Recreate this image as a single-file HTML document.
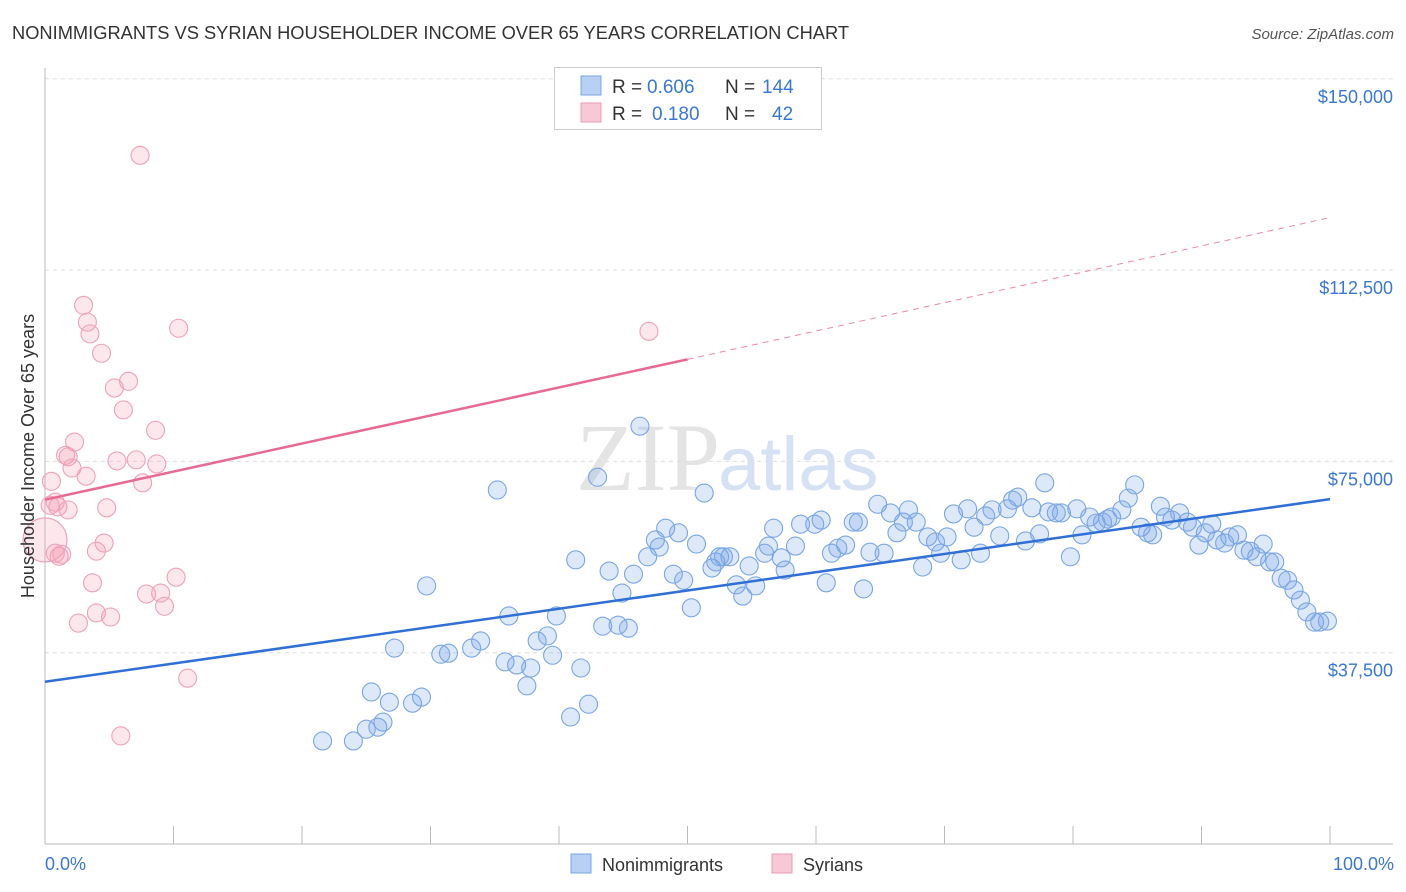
<!DOCTYPE html>
<html><head><meta charset="utf-8">
<style>
body{margin:0;background:#fff;font-family:"Liberation Sans",sans-serif;}
svg{display:block}
</style></head>
<body>
<svg id="chart" width="1406" height="892">
<text x="12" y="39" font-size="18.3" fill="#333">NONIMMIGRANTS VS SYRIAN HOUSEHOLDER INCOME OVER 65 YEARS CORRELATION CHART</text>
<text x="1394" y="39" font-size="15" fill="#555" font-style="italic" text-anchor="end">Source: ZipAtlas.com</text>
<text x="720" y="490" font-size="96" fill="#e4e4e4" font-family="Liberation Serif,serif" text-anchor="end">ZIP</text>
<text x="718" y="490" font-size="76" fill="#d6e2f3" text-anchor="start">atlas</text>
<g id="grid"></g>
<g id="axes"></g>
<g id="pts"></g>
<g id="lines"></g>
<text transform="translate(34,456) rotate(-90)" font-size="18" fill="#333" text-anchor="middle">Householder Income Over 65 years</text>
<text x="45" y="870" font-size="18" fill="#3a78d4">0.0%</text>
<text x="1394" y="870" font-size="18" fill="#3a78d4" text-anchor="end">100.0%</text>
<g>
<rect x="554.5" y="67.5" width="267" height="62" fill="#fff" stroke="#ccc"/>
<rect x="581" y="76" width="20" height="19" fill="#b7d0f3" stroke="#7aa6e4"/>
<rect x="581" y="103" width="20" height="19" fill="#f7c9d7" stroke="#eb9ab3"/>
<text x="612" y="93" font-size="19" fill="#333">R =</text>
<text x="647" y="93" font-size="19" fill="#3a78d4">0.606</text>
<text x="725" y="93" font-size="19" fill="#333">N =</text>
<text x="762" y="93" font-size="19" fill="#3a78d4">144</text>
<text x="612" y="120" font-size="19" fill="#333">R =</text>
<text x="652" y="120" font-size="19" fill="#3a78d4">0.180</text>
<text x="725" y="120" font-size="19" fill="#333">N =</text>
<text x="772" y="120" font-size="19" fill="#3a78d4">42</text>
</g>
<g>
<rect x="571" y="854" width="20" height="19" fill="#b7d0f3" stroke="#7aa6e4"/>
<text x="602" y="871" font-size="18" fill="#333">Nonimmigrants</text>
<rect x="772" y="854" width="20" height="19" fill="#f7c9d7" stroke="#eb9ab3"/>
<text x="803" y="871" font-size="18" fill="#333">Syrians</text>
</g>
</svg>
<script>
const yTicks=[37500,75000,112500,150000];
const yTickLabels=["$37,500","$75,000","$112,500","$150,000"];
const xTickPcts=[0,10,20,30,40,50,60,70,80,90,100];
const blueX=[21.6,24.0,25.0,25.9,26.3,25.4,26.8,28.6,29.3,27.2,29.7,30.8,31.4,33.2,33.9,35.2,35.8,36.1,36.7,37.5,37.8,38.3,39.1,39.8,39.5,40.9,41.7,42.3,41.3,43.4,43.9,44.6,44.9,45.4,45.8,46.3,43.0,46.9,47.5,47.8,48.3,49.3,48.9,49.7,50.3,50.7,51.3,51.9,52.2,52.5,52.8,53.3,53.8,54.3,54.8,55.3,56.0,56.3,56.7,57.3,57.6,58.4,58.8,59.9,60.4,60.8,61.2,61.7,62.3,62.9,63.3,63.7,64.2,64.8,65.3,65.8,66.3,66.8,67.2,67.8,68.3,68.7,69.3,69.7,70.2,70.7,71.3,71.8,72.3,72.8,73.2,73.7,74.3,74.9,75.3,75.7,76.3,76.8,77.4,77.8,78.1,78.7,79.1,79.8,80.3,80.7,81.3,81.8,82.3,82.7,83.0,83.8,84.3,84.8,85.3,85.8,86.2,86.8,87.2,87.7,88.3,88.9,89.3,89.8,90.3,90.8,91.2,91.8,92.2,92.8,93.3,93.8,94.3,94.8,95.3,95.7,96.2,96.7,97.2,97.7,98.2,98.8,99.2,99.8];
const blueY=[20200,20200,22500,22900,23900,29800,27800,27600,28800,38400,50600,37200,37400,38400,39800,69400,35700,44700,35100,31000,34500,39800,40800,44700,37000,24900,34500,27400,55700,42700,53500,42900,49200,42300,52900,81900,71900,56300,59600,58200,61900,61000,52900,51700,46300,58800,68800,54100,55300,56300,56300,56300,50800,48600,54500,50600,57000,58400,61900,56100,53700,58400,62700,62700,63500,51200,57000,58000,58600,63100,63100,50000,57200,66600,57000,64900,61000,63100,65500,63100,54300,60200,59200,57000,60200,64700,55700,65700,62100,57000,64300,65500,60400,65700,67400,68000,59400,65900,60800,70800,65100,64900,64900,56300,65700,60600,64100,62900,63100,63700,64100,65500,67800,70400,62100,61000,60600,66200,64100,63500,64900,63100,62100,58600,61000,62700,59600,59000,60200,60600,57600,57400,56300,58800,55300,55300,52100,51700,49800,47800,45500,43500,43500,43700];
const pinkX=[7.4,3.0,3.3,3.5,10.4,4.4,47.0,5.4,6.5,6.1,8.6,2.3,1.8,1.6,5.6,7.1,8.7,2.1,3.2,7.6,0.5,0.8,1.0,1.8,4.8,4.6,4.0,1.3,1.1,3.7,10.2,7.9,9.0,9.3,4.0,5.1,2.6,11.1,5.9,0.4,0.8,0.0];
const pinkY=[135000,105600,102300,100000,101100,96200,100500,89400,90700,85100,81100,78800,75900,76200,75100,75300,74500,73700,72100,70800,71100,67000,66100,65500,65900,59000,57400,56800,56400,51200,52300,49000,49200,46600,45300,44500,43300,32500,21200,66400,57000,59600];
const blueFit=[31800,67600];
const pinkFitStart=67500, pinkFitMid=95000, pinkFitEnd=122800;
const NS="http://www.w3.org/2000/svg";
const X0=45,X1=1330,YB=844,YPX=191.3/37500;
function sx(p){return X0+(X1-X0)*p/100;}
function sy(v){return YB-v*YPX;}
function mk(tag,attrs,parent){const e=document.createElementNS(NS,tag);for(const k in attrs)e.setAttribute(k,attrs[k]);parent.appendChild(e);return e;}
const grid=document.getElementById('grid'),axes=document.getElementById('axes'),pts=document.getElementById('pts'),lines=document.getElementById('lines');
yTicks.forEach((t,i)=>{
 const l=mk('line',{x1:45,x2:1393,y1:sy(t),y2:sy(t),stroke:'#ddd','stroke-dasharray':'4,4'},grid);
 
 
 const tx=mk('text',{x:1393,y:sy(t)+24,'font-size':18,fill:'#3a78d4','text-anchor':'end'},grid);
 tx.textContent=yTickLabels[i];
 
 
});
const ya=mk('line',{x1:45,x2:45,y1:68,y2:844,stroke:'#bbb'},axes);


const xa=mk('line',{x1:45,x2:1393,y1:844,y2:844,stroke:'#bbb'},axes);


xTickPcts.forEach(p=>{
 const t=mk('line',{x1:sx(p),x2:sx(p),y1:826,y2:844,stroke:'#bbb'},axes);
 
 
});
blueX.forEach((x,i)=>{
 const c=mk('circle',{cx:sx(x),cy:sy(blueY[i]),r:9,fill:'rgba(120,165,230,0.25)',stroke:'#7aa6e4','stroke-width':1.1},pts);
 
 
});
pinkX.forEach((x,i)=>{
 const big=i===pinkX.length-1;
 const c=mk('circle',{cx:sx(x),cy:sy(pinkY[i]),r:big?22:9,fill:'rgba(245,160,185,0.25)',stroke:'#eda2b9','stroke-width':1.1},pts);
 
 
});
const bl=mk('line',{x1:sx(0),y1:sy(blueFit[0]),x2:sx(100),y2:sy(blueFit[1]),stroke:'#2f6fd6','stroke-width':2.5},lines);


const pl=mk('line',{x1:sx(0),y1:sy(pinkFitStart),x2:sx(50),y2:sy(pinkFitMid),stroke:'#e86a93','stroke-width':2.5},lines);


const pd=mk('line',{x1:sx(50),y1:sy(pinkFitMid),x2:sx(100),y2:sy(pinkFitEnd),stroke:'#e98aa8','stroke-width':1,'stroke-dasharray':'6,5'},lines);


</script>
</body></html>
